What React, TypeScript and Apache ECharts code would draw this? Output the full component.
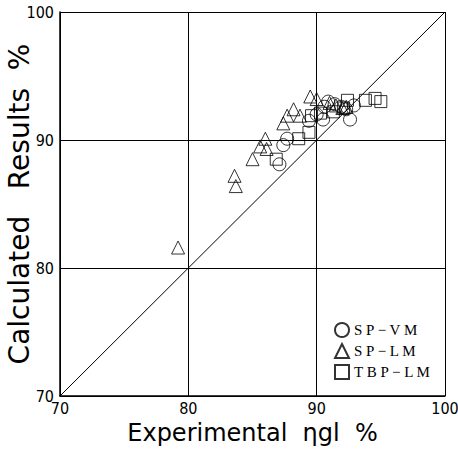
import React, { useEffect, useRef } from "react";
import * as echarts from "echarts";

const xTicks = [70, 80, 90, 100];
const spVM: number[][] = [
  [87.1, 88.1], [87.4, 89.6], [87.7, 90.1], [89.4, 91.5], [90.0, 92.0],
  [90.5, 91.6], [90.6, 92.6], [90.9, 93.0], [91.4, 92.8], [91.9, 92.6],
  [92.3, 92.4], [92.6, 91.6], [92.9, 92.7],
];
const spLM: number[][] = [
  [79.2, 81.6], [83.6, 87.2], [83.7, 86.4], [85.0, 88.5], [85.6, 89.5],
  [86.0, 90.1], [86.1, 89.3], [87.4, 91.3], [87.7, 91.9], [88.2, 92.4],
  [88.7, 91.9], [89.5, 93.4], [90.0, 93.2], [91.0, 92.9], [91.5, 92.7],
  [92.0, 92.5], [92.3, 92.6],
];
const tbpLM: number[][] = [
  [86.85, 88.5], [88.6, 90.1], [89.4, 90.6], [89.6, 91.9], [90.3, 92.1],
  [91.3, 92.2], [92.1, 92.5], [92.4, 93.1], [93.8, 93.1], [94.55, 93.25],
  [95.0, 93.0],
];
const diagonal: number[][] = [[70, 70], [100, 100]];
const seriesNames = ["S P − V M", "S P − L M", "T B P − L M"];

export default function App() {
  const ref = useRef<HTMLDivElement>(null);
  useEffect(() => {
    if (!ref.current) return;
    const chart = echarts.init(ref.current, null, { renderer: "svg" });
    const tickFont = {
      color: "#000",
      fontFamily: "Liberation Sans Narrow, DejaVu Sans Condensed, sans-serif",
      fontSize: 16,
    };
    const marker = {
      color: "transparent",
      borderColor: "#000",
      borderWidth: 1,
    };
    chart.setOption({
      animation: false,
      backgroundColor: "#fff",
      grid: { left: 60, right: 13, top: 12, bottom: 56, containLabel: false, outerBoundsMode: "none" },
      xAxis: {
        type: "value",
        min: 70,
        max: 100,
        interval: 10,
        name: "Experimental  ηgl  %",
        nameLocation: "middle",
        nameGap: 25,
        nameMoveOverlap: false,
        nameTextStyle: { color: "#000", fontFamily: "DejaVu Sans", fontSize: 24 },
        axisLine: { lineStyle: { color: "#000", width: 1.5 } },
        axisTick: { show: false },
        axisLabel: { ...tickFont, margin: 4 },
        splitLine: { lineStyle: { color: "#000", width: 1 } },
      },
      yAxis: {
        type: "value",
        min: 70,
        max: 100,
        interval: 10,
        name: "Calculated   Results  %",
        nameLocation: "middle",
        nameGap: 27,
        nameMoveOverlap: false,
        nameTextStyle: { color: "#000", fontFamily: "DejaVu Sans", fontSize: 28 },
        axisLine: { lineStyle: { color: "#000", width: 1.5 } },
        axisTick: { show: false },
        axisLabel: { ...tickFont, margin: 6 },
        splitLine: { lineStyle: { color: "#000", width: 1 } },
      },
      legend: {
        data: seriesNames,
        orient: "vertical",
        left: 329,
        top: 317,
        itemGap: 5,
        itemWidth: 14,
        itemHeight: 14,
        textStyle: { color: "#000", fontFamily: "Liberation Serif, serif", fontSize: 15 },
      },
      series: [
        {
          type: "line",
          data: diagonal,
          symbol: "none",
          lineStyle: { color: "#000", width: 1 },
          silent: true,
        },
        {
          name: seriesNames[0],
          type: "scatter",
          symbol: "circle",
          symbolSize: 13,
          data: spVM,
          itemStyle: marker,
        },
        {
          name: seriesNames[1],
          type: "scatter",
          symbol: "triangle",
          symbolSize: 13,
          data: spLM,
          itemStyle: marker,
        },
        {
          name: seriesNames[2],
          type: "scatter",
          symbol: "rect",
          symbolSize: 12,
          data: tbpLM,
          itemStyle: marker,
        },
      ],
    });
    return () => chart.dispose();
  }, []);
  return <div ref={ref} style={{ width: 458, height: 452, position: "absolute", left: 0, top: 0 }} />;
}
